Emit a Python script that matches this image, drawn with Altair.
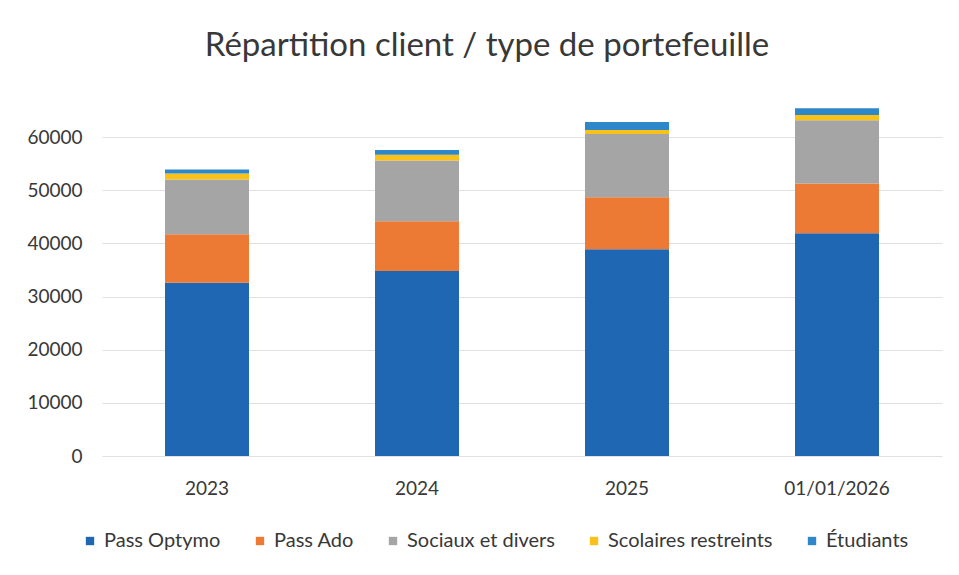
import altair as alt
import pandas as pd

years = ["2023", "2024", "2025", "01/01/2026"]
series = ["Pass Optymo", "Pass Ado", "Sociaux et divers", "Scolaires restreints", "Étudiants"]
pass_optymo = [32600, 34800, 38900, 41900]
pass_ado = [9150, 9400, 9800, 9400]
sociaux = [10300, 11400, 11900, 11900]
scolaires = [1100, 1100, 750, 1000]
etudiants = [750, 900, 1500, 1250]
colors = ["#1f66b3", "#ec7a35", "#a5a5a5", "#f9c21a", "#2e87c8"]
y_ticks = [0, 10000, 20000, 30000, 40000, 50000, 60000]

rows = []
for si, (name, vals) in enumerate(zip(series, [pass_optymo, pass_ado, sociaux, scolaires, etudiants])):
    for yr, v in zip(years, vals):
        rows.append({"annee": yr, "type": name, "valeur": v, "ordre": si})
df = pd.DataFrame(rows)

FONT = "Lato"

chart = alt.Chart(df).mark_bar().encode(
    x=alt.X("annee:N", sort=years, title=None,
            scale=alt.Scale(paddingInner=0.6, paddingOuter=0.3),
            axis=alt.Axis(labelAngle=0, labelFontSize=19, labelColor="#383838",
                          labelFont=FONT, labelPadding=23, ticks=False, domain=False)),
    y=alt.Y("valeur:Q", title=None, stack="zero",
            scale=alt.Scale(domain=[0, 67000], nice=False),
            axis=alt.Axis(values=y_ticks, format="d", labelFontSize=19, labelColor="#383838",
                          labelFont=FONT, labelPadding=20, ticks=False, domain=False,
                          gridColor="#e0e0e0", gridWidth=1)),
    color=alt.Color("type:N", sort=series,
                    scale=alt.Scale(domain=series, range=colors),
                    legend=alt.Legend(title=None, orient="none", direction="horizontal",
                                      legendX=-22, legendY=431, symbolType="square",
                                      symbolSize=70, symbolStrokeWidth=0,
                                      labelFontSize=20, labelFont=FONT, labelColor="#383838",
                                      labelLimit=300, columnPadding=29, symbolOffset=0)),
    order=alt.Order("ordre:Q", sort="ascending"),
).properties(
    width=840,
    height=356,
    background="white",
    title=alt.TitleParams("Répartition client / type de portefeuille", fontSize=33,
                          font=FONT, fontWeight="normal", color="#383838",
                          anchor="middle", dx=-35, offset=11, baseline="alphabetic"),
    padding={"left": 94, "top": 92, "right": 9, "bottom": 111},
    autosize=alt.AutoSizeParams(type="none"),
).configure_view(stroke=None, strokeWidth=0)

chart.save("out.html", embed_options={"renderer": "svg", "actions": False})
